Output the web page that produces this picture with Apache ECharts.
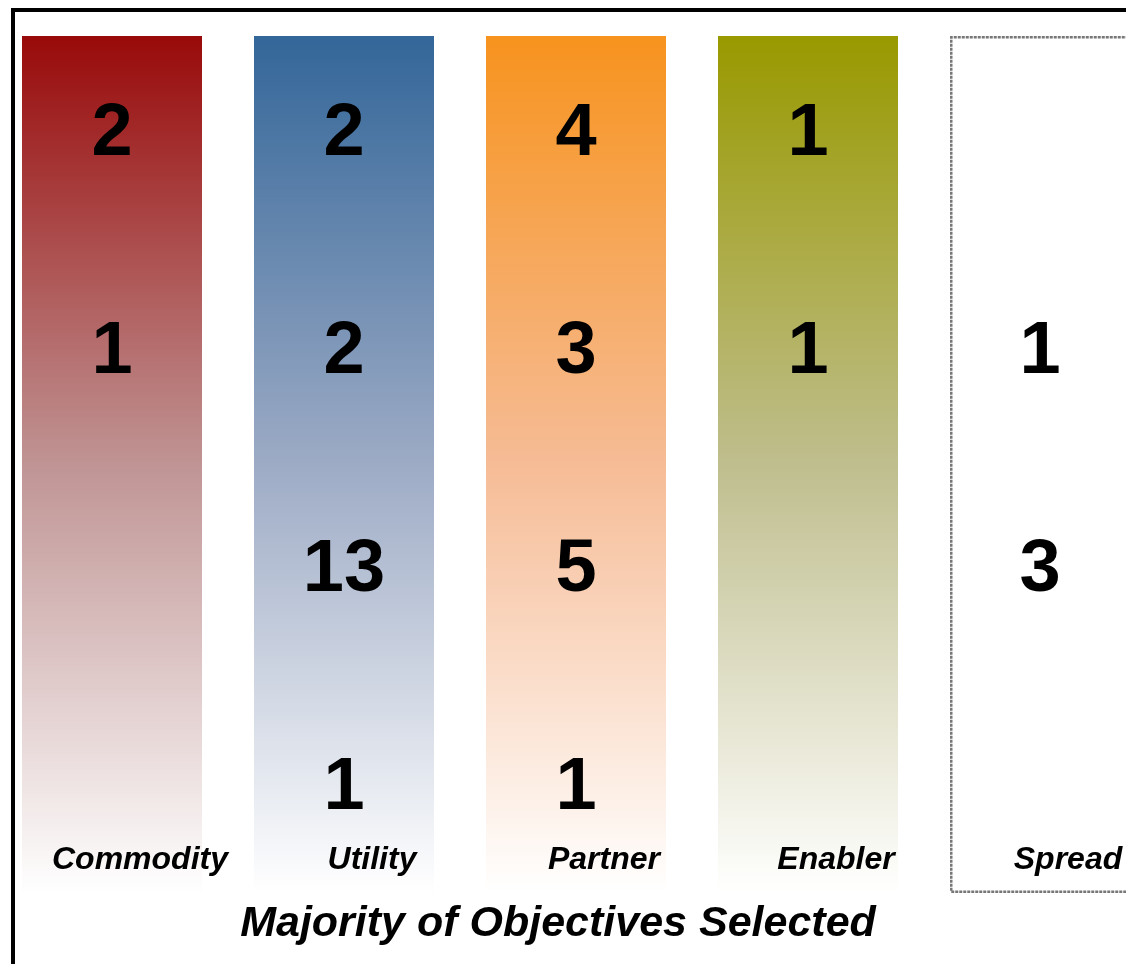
<!DOCTYPE html>
<html>
<head>
<meta charset="utf-8">
<script src="https://cdn.jsdelivr.net/npm/echarts@6/dist/echarts.min.js"></script>
<style>
  html, body { margin: 0; padding: 0; background: #fff; }
  #wrap { position: relative; width: 1126px; height: 964px; overflow: hidden; }
  #chart { position: absolute; left: 0; top: 0; width: 1126px; height: 964px; }
  #frame { position: absolute; left: 11px; top: 8px; width: 1300px; height: 1100px;
           border: 4px solid #000; pointer-events: none; box-sizing: border-box; }
</style>
</head>
<body>
<div id="wrap"><div id="chart"></div><div id="frame"></div></div>
<script>
// ---- data ----
const categories = ['Commodity', 'Utility', 'Partner', 'Enabler', 'Spread'];
const rowLevels = [4, 3, 2, 1];           // row 1 (top) .. row 4 (bottom)
// counts per category, top row to bottom row (null = empty cell)
const commodityCounts = [2, 1, null, null];
const utilityCounts   = [2, 2, 13, 1];
const partnerCounts   = [4, 3, 5, 1];
const enablerCounts   = [1, 1, null, null];
const spreadCounts    = [null, 1, 3, null];
const panelHeights = [1, 1, 1, 1, 1];
const topColors = ['#990A0A', '#336699', '#F7931E', '#999900', null];
const midColors = ['#C09494', '#9DABC5', '#F6BC96', '#BFBE8E', null];
const titleText = 'Majority of Objectives Selected';

const countsByCat = [commodityCounts, utilityCounts, partnerCounts, enablerCounts, spreadCounts];

const panelData = panelHeights.map((v, i) => {
  if (!topColors[i]) {
    return { value: v, itemStyle: { color: '#ffffff', borderColor: '#777777', borderWidth: 2.5, borderType: [3, 1] } };
  }
  return {
    value: v,
    itemStyle: {
      color: new echarts.graphic.LinearGradient(0, 0, 0, 1, [
        { offset: 0, color: topColors[i] },
        { offset: 0.5, color: midColors[i] },
        { offset: 1, color: '#FFFFFF' }
      ])
    }
  };
});

const labelData = [];
countsByCat.forEach((arr, ci) => {
  arr.forEach((c, ri) => {
    if (c !== null) labelData.push([ci, rowLevels[ri], c]);
  });
});

const FONT = '"Liberation Sans", Arial, Helvetica, sans-serif';

const chart = echarts.init(document.getElementById('chart'), null, { renderer: 'canvas' });
chart.setOption({
  backgroundColor: '#ffffff',
  animation: false,
  title: {
    text: titleText,
    left: 553,
    top: 898,
    textAlign: 'center',
    textStyle: { fontFamily: FONT, fontSize: 43, fontWeight: 'bold', fontStyle: 'italic', color: '#000' }
  },
  grid: [
    { left: -4, width: 1160, top: 36, bottom: 71, outerBoundsMode: 'none', containLabel: false },
    { left: -4, width: 1160, top: 25, bottom: 66, outerBoundsMode: 'none', containLabel: false }
  ],
  xAxis: [
    {
      type: 'category', gridIndex: 0, data: categories, boundaryGap: true,
      offset: -49,
      axisLine: { show: false }, axisTick: { show: false }, splitLine: { show: false },
      axisLabel: {
        show: true, margin: 0, interval: 0, hideOverlap: false,
        padding: [0, 0, 0, 56],
        fontFamily: FONT, fontSize: 32, fontWeight: 'bold', fontStyle: 'italic', color: '#000'
      },
      z: 10
    },
    {
      type: 'category', gridIndex: 1, data: categories, boundaryGap: true, show: false
    }
  ],
  yAxis: [
    { type: 'value', gridIndex: 0, min: 0, max: 1, show: false, splitLine: { show: false } },
    { type: 'value', gridIndex: 1, min: 0.5, max: 4.5, show: false, splitLine: { show: false } }
  ],
  series: [
    {
      type: 'bar', xAxisIndex: 0, yAxisIndex: 0, barWidth: 180,
      data: panelData, silent: true, z: 1
    },
    {
      type: 'scatter', xAxisIndex: 1, yAxisIndex: 1, symbolSize: 2,
      itemStyle: { color: 'rgba(0,0,0,0)', opacity: 1 },
      data: labelData, z: 5,
      label: {
        show: true, position: 'inside', opacity: 1,
        formatter: p => String(p.value[2]),
        fontFamily: FONT, fontSize: 74, fontWeight: 'bold', color: '#000'
      },
      labelLayout: { hideOverlap: false }
    }
  ]
});
</script>
</body>
</html>
